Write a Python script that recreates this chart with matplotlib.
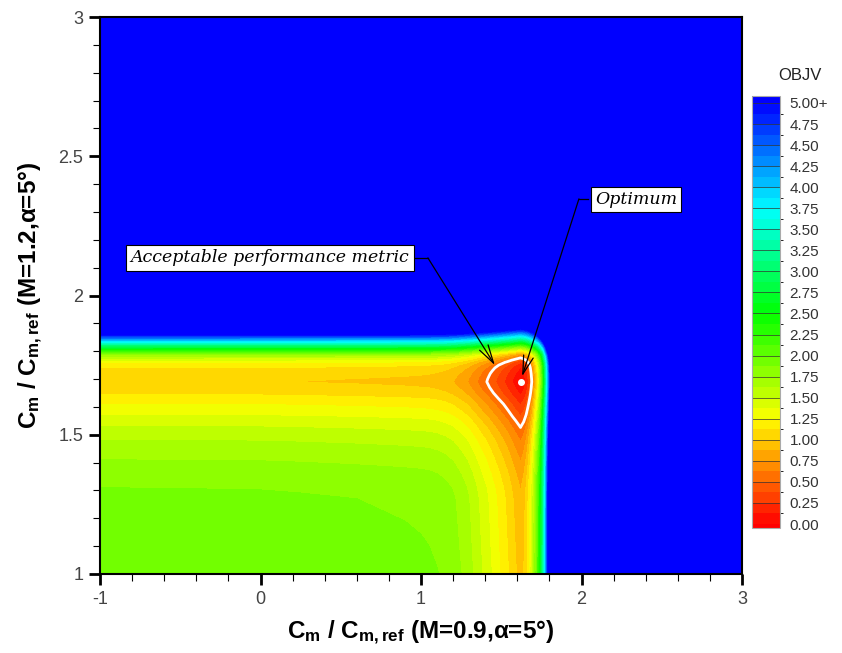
import numpy as np
import matplotlib
matplotlib.use('Agg')
import matplotlib.pyplot as plt
from matplotlib.colors import ListedColormap, BoundaryNorm, LinearSegmentedColormap

# ===============================================================
# ДАННЫЕ

# профиль OBJV вдоль Cm/Cm,ref (M=0.9)
x_pts = np.array([-1.0, -0.5, 0.0, 0.25, 0.6, 0.9, 1.0, 1.05, 1.1, 1.15, 1.2, 1.25,
                  1.29, 1.32, 1.35, 1.38, 1.41, 1.445, 1.48, 1.51, 1.54, 1.57, 1.595,
                  1.62, 1.64, 1.655, 1.67, 1.68, 1.69, 1.70, 1.71, 1.72, 1.73, 1.74,
                  1.75, 1.76, 1.77, 1.78, 1.79, 1.80, 1.81, 1.83, 1.86, 1.9, 2.0,
                  2.5, 3.0])
f_x = np.array([1.01, 1.008, 1.005, 0.998, 0.985, 0.97, 0.962, 0.955, 0.94, 0.915, 0.875, 0.81,
                0.75, 0.69, 0.625, 0.56, 0.5, 0.42, 0.34, 0.27, 0.2, 0.12, 0.06,
                0.0, 0.06, 0.14, 0.26, 0.37, 0.5, 0.65, 0.82, 1.0, 1.22, 1.48,
                1.8, 2.2, 2.7, 3.3, 3.95, 4.6, 5.2, 5.8, 6.3, 6.7, 7.2,
                8.5, 10.0])

# профиль OBJV вдоль Cm/Cm,ref (M=1.2)
y_pts = np.array([1.0, 1.1, 1.19, 1.27, 1.31, 1.36, 1.41, 1.445, 1.48, 1.505, 1.53, 1.55,
                  1.57, 1.59, 1.61, 1.63, 1.65, 1.67, 1.69, 1.70, 1.71, 1.72, 1.73,
                  1.74, 1.75, 1.76, 1.768, 1.776, 1.784, 1.79, 1.80, 1.81, 1.82, 1.83,
                  1.84, 1.85, 1.86, 1.87, 1.88, 1.9, 1.95, 2.0, 2.5, 3.0])
g_y = np.array([0.94, 0.92, 0.905, 0.89, 0.865, 0.81, 0.74, 0.68, 0.615, 0.555, 0.49, 0.43,
                0.365, 0.30, 0.24, 0.165, 0.095, 0.04, 0.0, 0.012, 0.03, 0.05, 0.08,
                0.115, 0.17, 0.26, 0.37, 0.5, 0.66, 0.8, 1.15, 1.55, 2.0, 2.5,
                3.0, 3.5, 4.0, 4.5, 5.0, 5.6, 6.3, 6.8, 8.5, 10.0])

opt_x, opt_y = 1.62, 1.69      # оптимум
accept_level = 0.5             # допустимый уровень

levels = np.arange(0, 5.0001, 0.125)
tick_vals = np.arange(0, 5.0001, 0.25)

x_ticks = [-1, 0, 1, 2, 3]
y_ticks = [1, 1.5, 2, 2.5, 3]

# ===============================================================
# РИСОВАНИЕ

plt.rcParams['font.family'] = ['Liberation Sans', 'DejaVu Sans']
plt.rcParams['mathtext.fontset'] = 'custom'
plt.rcParams['mathtext.rm'] = 'Liberation Sans'
plt.rcParams['mathtext.bf'] = 'Liberation Sans:bold'
plt.rcParams['mathtext.it'] = 'Liberation Sans:italic'

X, Y = np.meshgrid(x_pts, y_pts)
Z = f_x[None, :] + g_y[:, None]

rainbow = LinearSegmentedColormap.from_list(
    'tec', [(0, '#ff0000'), (0.25, '#ffff00'), (0.5, '#00ff00'), (0.75, '#00ffff'), (1, '#0000ff')])
mids = (levels[:-1] + levels[1:]) / 2
cmap = ListedColormap(rainbow(mids / 5.0))
cmap.set_under('#ff0000')
cmap.set_over('#0000ff')
norm = BoundaryNorm(levels, cmap.N)

fig = plt.figure(figsize=(8.42, 6.53), dpi=100)
ax = fig.add_axes([100 / 842, 1 - 574 / 653, 642 / 842, 557 / 653])

cf = ax.contourf(X, Y, Z, levels=levels, cmap=cmap, norm=norm, extend='both')
ax.contour(X, Y, Z, levels=[accept_level], colors='white', linewidths=2)
ax.plot(opt_x, opt_y, 'o', color='white', ms=4, mec='white')

ax.set_xlim(-1, 3)
ax.set_ylim(1, 3)
ax.set_xticks(x_ticks)
ax.set_xticklabels(['-1', '0', '1', '2', '3'])
ax.set_yticks(y_ticks)
ax.set_yticklabels(['1', '1.5', '2', '2.5', '3'])
ax.set_xticks(np.arange(-1, 3.001, 0.2), minor=True)
ax.set_yticks(np.arange(1, 3.001, 0.1), minor=True)
ax.tick_params(which='major', direction='out', length=8, width=2, labelsize=13,
               labelcolor='#444444', pad=4)
ax.tick_params(which='minor', direction='out', length=5, width=0.8)
for s in ax.spines.values():
    s.set_linewidth(1.5)

ax.set_xlabel(r'$\mathbf{C_m}$ / $\mathbf{C_{m,ref}}$ (M=0.9,α=5°)', fontsize=17.5,
              fontweight='bold', labelpad=8)
ax.set_ylabel(r'$\mathbf{C_m}$ / $\mathbf{C_{m,ref}}$ (M=1.2,α=5°)', fontsize=17.5,
              fontweight='bold', labelpad=10)

# подписи со стрелками
box = dict(boxstyle='square,pad=0.25', fc='white', ec='black', lw=0.8)
ax.text(0.06, 2.135, 'Acceptable performance metric', family='DejaVu Serif',
        fontstyle='italic', fontsize=12.5, ha='center', va='center', bbox=box)
ax.plot([0.963, 1.043], [2.135, 2.135], color='black', lw=0.9)
ax.annotate('', xy=(1.46, 1.75), xytext=(1.043, 2.135),
            arrowprops=dict(arrowstyle='->,head_length=1.1,head_width=0.3',
                            color='black', lw=0.9, mutation_scale=12, shrinkA=0, shrinkB=0))

ax.text(2.34, 2.345, 'Optimum', family='DejaVu Serif', fontstyle='italic', fontsize=12.5,
        ha='center', va='center', bbox=box)
ax.plot([2.04, 1.984], [2.347, 2.347], color='black', lw=0.9)
ax.annotate('', xy=(1.63, 1.71), xytext=(1.984, 2.347),
            arrowprops=dict(arrowstyle='->,head_length=1.1,head_width=0.3',
                            color='black', lw=0.9, mutation_scale=12, shrinkA=0, shrinkB=0))

# легенда цветов
cax = fig.add_axes([752 / 842, 1 - 528 / 653, 28 / 842, 432 / 653])
cb = fig.colorbar(cf, cax=cax, extendrect=True, extendfrac=(0.0095, 0.0166))
cb.set_ticks(tick_vals)
labels = [f'{v:.2f}' for v in tick_vals]
labels[-1] = labels[-1] + '+'
cb.set_ticklabels(labels)
cb.ax.tick_params(length=0, labelsize=11, labelcolor='#333333', pad=7)
cb.outline.set_edgecolor('#aaaaaa')
cb.outline.set_linewidth(0.8)
for v in tick_vals:
    cb.ax.axhline(v, color='#333333', lw=0.5)
fig.text(800 / 842, 1 - 75 / 653, 'OBJV', ha='center', va='center', fontsize=12, color='#222222')

fig.savefig('out.png', dpi=100)
